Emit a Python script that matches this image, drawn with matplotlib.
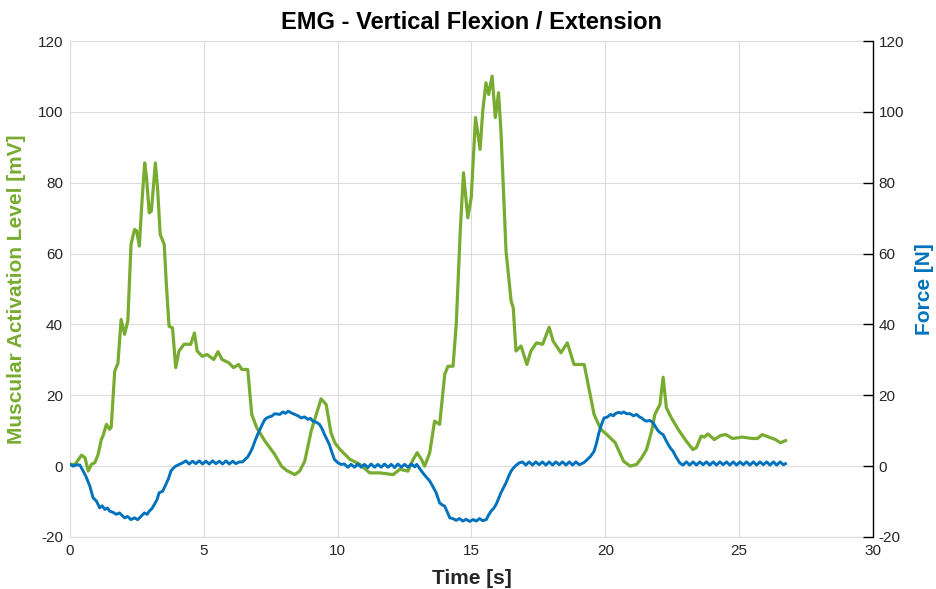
import matplotlib.pyplot as plt

# EMG activation (left axis, mV)
emg_t = [0.0, 0.19, 0.43, 0.56, 0.68, 0.8, 0.93, 1.05, 1.17, 1.23, 1.36, 1.48, 1.54, 1.67, 1.79,
         1.91, 2.04, 2.16, 2.28, 2.41, 2.49, 2.59, 2.69, 2.79, 2.86, 2.96, 3.04, 3.19, 3.27, 3.37,
         3.52, 3.6, 3.7, 3.83, 3.95, 4.07, 4.26, 4.51, 4.65, 4.75, 4.94, 5.12, 5.37, 5.53, 5.68,
         5.93, 6.11, 6.3, 6.42, 6.64, 6.79, 6.98, 7.28, 7.65, 7.9, 8.09, 8.4, 8.58, 8.77, 9.01,
         9.2, 9.38, 9.57, 9.75, 9.9, 10.09, 10.46, 10.83, 11.2, 11.58, 12.07, 12.32, 12.63, 12.82,
         12.97, 13.13, 13.25, 13.44, 13.62, 13.81, 14.0, 14.12, 14.31, 14.43, 14.58, 14.7, 14.86,
         14.99, 15.15, 15.32, 15.42, 15.54, 15.64, 15.77, 15.89, 16.01, 16.1, 16.29, 16.48, 16.56,
         16.66, 16.85, 17.07, 17.22, 17.43, 17.66, 17.9, 18.05, 18.34, 18.58, 18.83, 19.21, 19.58,
         19.83, 20.06, 20.37, 20.68, 20.93, 21.17, 21.36, 21.54, 21.73, 21.85, 22.04, 22.16, 22.28,
         22.47, 22.72, 23.02, 23.27, 23.4, 23.58, 23.7, 23.83, 24.07, 24.32, 24.51, 24.75, 25.12,
         25.49, 25.68, 25.86, 26.11, 26.36, 26.54, 26.73]
emg_mv = [0.5, 0.5, 3.1, 2.4, -1.4, 0.5, 1.0, 3.3, 7.5, 8.5, 11.8, 10.4, 11.0, 26.8, 29.0,
          41.4, 37.2, 41.0, 62.6, 66.8, 66.4, 62.1, 74.8, 85.6, 81.4, 71.5, 72.0, 85.6, 78.6, 65.4,
          62.6, 51.3, 39.5, 39.0, 27.8, 32.5, 34.4, 34.4, 37.6, 32.5, 31.0, 31.5, 30.1, 32.3, 30.1,
          29.2, 27.8, 28.7, 27.3, 27.3, 14.6, 10.8, 7.1, 3.3, 0.0, -1.2, -2.4, -1.4, 1.4, 9.9,
          14.6, 19.0, 17.4, 9.4, 6.5, 4.7, 1.9, 0.5, -1.9, -1.9, -2.4, -0.9, -1.4, 1.9,
          3.8, 1.9, 0.0, 3.8, 12.7, 11.8, 25.9, 28.2, 28.2, 40.0, 66.4, 82.8, 70.1,
          75.8, 98.4, 89.4, 100.2, 108.2, 104.9, 110.1, 98.4, 105.4, 94.6, 60.7, 46.6, 44.7,
          32.5, 33.9, 28.7, 32.5, 34.8, 34.4, 39.2, 35.3, 32.0, 34.8, 28.7, 28.7, 14.6,
          10.4, 8.9, 6.6, 1.4, 0.0, 0.5, 2.4, 4.7, 9.9, 14.6, 17.4, 25.1, 16.5,
          13.6, 10.4, 7.1, 4.7, 5.2, 8.5, 8.2, 9.1, 7.5, 8.7, 8.9, 7.8, 8.2,
          7.8, 7.8, 8.9, 8.2, 7.5, 6.6, 7.2]

# Force (right axis, N)
force_t = [0.0, 0.12, 0.25, 0.37, 0.5, 0.6, 0.74, 0.86, 0.99, 1.11, 1.2, 1.3, 1.4, 1.48, 1.6,
           1.73, 1.85, 2.04, 2.15, 2.28, 2.4, 2.53, 2.65, 2.78, 2.88, 2.96, 3.06, 3.15, 3.25, 3.33,
           3.46, 3.58, 3.68, 3.77, 3.87, 3.95, 4.08, 4.2,
           4.33, 4.45, 4.58, 4.7, 4.83, 4.95, 5.08, 5.2, 5.33, 5.45, 5.58, 5.7, 5.83, 5.95, 6.08,
           6.2, 6.33,
           6.45, 6.54, 6.64, 6.73, 6.82, 6.91, 7.0, 7.1, 7.2, 7.28, 7.4, 7.53, 7.65, 7.84, 7.95,
           8.05, 8.15, 8.28, 8.4, 8.52, 8.64, 8.76, 8.89, 8.98, 9.07, 9.2, 9.32, 9.42, 9.51, 9.6,
           9.69, 9.78, 9.88, 10.0, 10.12,
           10.25, 10.38, 10.5, 10.63, 10.75, 10.88, 11.0, 11.13, 11.25, 11.38, 11.5, 11.63, 11.75,
           11.88, 12.0, 12.13, 12.25, 12.38, 12.5, 12.63, 12.75, 12.88,
           12.95, 13.05, 13.13, 13.28, 13.44, 13.56, 13.68, 13.81, 13.9, 14.0, 14.1, 14.19, 14.3,
           14.43, 14.55, 14.68, 14.8, 14.93, 15.06, 15.18, 15.3, 15.42, 15.55, 15.64, 15.73, 15.82,
           15.92, 16.01, 16.1, 16.2, 16.29, 16.38, 16.48, 16.57, 16.66, 16.78,
           16.9, 17.03, 17.15, 17.28, 17.4, 17.53, 17.65, 17.78, 17.9, 18.03, 18.15, 18.28, 18.4,
           18.53, 18.65, 18.78, 18.9, 19.03,
           19.2, 19.33, 19.45, 19.58, 19.67, 19.76, 19.86, 19.95, 20.06, 20.2, 20.3, 20.37, 20.5,
           20.6, 20.68, 20.8, 20.93, 21.05, 21.17, 21.27, 21.36, 21.45, 21.54, 21.66, 21.79, 21.88,
           21.98, 22.07, 22.16, 22.25, 22.35, 22.44, 22.53, 22.65, 22.78, 22.9,
           23.03, 23.15, 23.28, 23.4, 23.53, 23.65, 23.78, 23.9, 24.03, 24.15, 24.28, 24.4, 24.53,
           24.65, 24.78, 24.9, 25.03, 25.15, 25.28, 25.4, 25.53, 25.65, 25.78, 25.9, 26.03, 26.15,
           26.28, 26.4, 26.53, 26.65, 26.73]
force_n = [0.5, 0.0, 0.4, 0.3, -1.5, -3.0, -5.6, -8.9, -9.9, -11.8, -11.2, -12.2, -11.8, -12.7,
           -13.0, -13.6, -13.2, -14.6, -14.2, -15.1, -14.6, -15.1, -14.2, -13.2, -13.6, -12.7,
           -12.0, -10.8, -9.5, -7.5, -7.1, -5.2, -3.5, -1.4, -0.5, 0.0, 0.5, 0.9,
           1.5, 0.6, 1.4, 0.7, 1.5, 0.6, 1.4, 0.6, 1.5, 0.7, 1.4, 0.6, 1.5, 0.6, 1.4,
           0.7, 1.2,
           1.2, 1.9, 2.6, 3.8, 5.2, 7.1, 8.8, 10.4, 12.0, 13.2, 13.8, 14.1, 14.8, 14.6, 15.3,
           14.9, 15.5, 15.0, 14.6, 14.2, 13.6, 13.9, 13.2, 13.5, 12.7, 12.4, 11.8, 10.5, 8.9, 7.5,
           6.1, 4.0, 1.9, 1.0, 0.5,
           0.6, -0.3, 0.5, -0.3, 0.6, -0.3, 0.5, -0.4, 0.6, -0.3, 0.5, -0.3, 0.6,
           -0.3, 0.5, -0.4, 0.6, -0.3, 0.5, -0.3, 0.6, -0.2,
           0.5, -0.5, -1.4, -2.8, -4.2, -5.8, -7.5, -10.4, -10.9, -11.3, -13.0, -14.6, -14.8,
           -15.3, -14.8, -15.5, -15.0, -15.6, -15.1, -15.5, -14.8, -15.4, -15.1, -13.8, -12.7, -12.0,
           -10.8, -9.2, -7.5, -6.0, -4.7, -3.0, -1.4, -0.5, 0.2, 0.9,
           1.2, 0.3, 1.2, 0.3, 1.2, 0.4, 1.2, 0.3, 1.2, 0.3, 1.2, 0.4, 1.2,
           0.3, 1.2, 0.3, 1.2, 0.4,
           1.0, 1.9, 2.8, 4.2, 6.5, 9.4, 11.8, 13.6, 13.8, 14.6, 14.2, 14.8, 15.2,
           14.9, 15.3, 14.8, 14.8, 14.2, 14.6, 13.9, 13.6, 13.0, 12.7, 12.9, 12.2, 11.0,
           9.9, 9.3, 8.9, 7.5, 6.1, 5.0, 4.2, 2.5, 0.9, 0.3,
           1.2, 0.3, 1.2, 0.3, 1.2, 0.4, 1.2, 0.3, 1.2, 0.3, 1.2, 0.4, 1.2,
           0.3, 1.2, 0.3, 1.2, 0.4, 1.2, 0.3, 1.2, 0.3, 1.2, 0.4, 1.2, 0.3,
           1.2, 0.3, 1.2, 0.4, 0.7]

green = '#77AC30'
blue = '#0072BD'
tick_gray = '#262626'
grid_gray = '#DCDCDC'

plt.rcParams['font.family'] = ['Liberation Sans', 'DejaVu Sans']
plt.rcParams['axes.unicode_minus'] = False

fig = plt.figure(figsize=(9.36, 5.89), dpi=100)
ax = fig.add_axes([70 / 936, 1 - 537 / 589, 803 / 936, 496 / 589])
ax2 = ax.twinx()

ax.plot(emg_t, emg_mv, color=green, lw=2.3, solid_joinstyle='round', zorder=3)
ax2.plot(force_t, force_n, color=blue, lw=2.1, solid_joinstyle='round', zorder=3)

for a in (ax, ax2):
    a.set_xlim(0, 30)
    a.set_ylim(-20, 120)
    a.set_yticks(range(-20, 121, 20))

ax.set_xticks(range(0, 31, 5))
ax.grid(True, color=grid_gray, lw=0.8)
ax.set_axisbelow(True)

for side in ('left', 'bottom', 'top'):
    ax.spines[side].set_color(grid_gray)
    ax2.spines[side].set_visible(False)
ax.spines['right'].set_visible(False)
ax2.spines['right'].set_color('black')
ax2.spines['right'].set_linewidth(1.0)

ax.tick_params(axis='both', length=0, labelsize=11, labelcolor=tick_gray, pad=5)
ax2.tick_params(axis='y', direction='in', length=7, width=1, labelsize=11,
                labelcolor=tick_gray, pad=4)

ax.set_xlabel('Time [s]', fontsize=15, fontweight='bold', color=tick_gray, labelpad=8)
ax.set_ylabel('Muscular Activation Level [mV]', fontsize=15, fontweight='bold',
              color=green, labelpad=8)
ax2.set_ylabel('Force [N]', fontsize=15, fontweight='bold', color=blue,
               rotation=90, labelpad=8)
ax.set_title('EMG - Vertical Flexion / Extension', fontsize=17, fontweight='bold',
             color='black', pad=9)

fig.savefig('out.png', dpi=100)
